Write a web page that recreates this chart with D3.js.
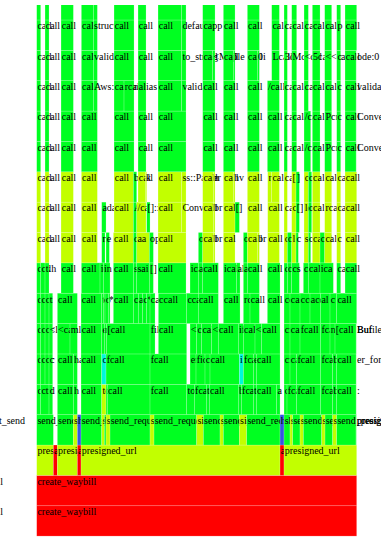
<!DOCTYPE html>
<html>
<head>
<meta charset="utf-8">
<script src="https://cdn.jsdelivr.net/npm/d3@7"></script>
<style>
  html, body { margin: 0; padding: 0; background: #fff; }
  svg { display: block; }
</style>
</head>
<body>
<div id="chart"></div>
<script>
// flame graph, root at the bottom. each frame: [startSample, endSample, kind, name]
const totalSamples = 960;

const frames0 = [[0, 960, "red", "create_waybill"]];
const frames1 = [[0, 960, "red", "create_waybill"]];
const frames2 = [
  [0, 50, "yellow", "presigned_url"], [50, 62, "red", "aws_sign"], [62, 122, "yellow", "presigned_url"],
  [122, 133, "red", "aws_sign"], [133, 730, "yellow", "presigned_url"], [730, 742, "red", "aws_sign"],
  [742, 960, "yellow", "presigned_url"]
];
const frames3 = [
  [0, 50, "green", "send_request"],
  [62, 110, "green", "send_request"], [110, 122, "yellow", "sign"], [122, 133, "blue", "hmac"],
  [133, 195, "green", "send_request"], [195, 203, "yellow", "sign"], [203, 208, "green", "b"], [208, 220, "yellow", "sign"],
  [220, 340, "green", "send_request"], [340, 352, "yellow", "sign"],
  [352, 480, "green", "send_request"], [480, 500, "yellow", "sign"],
  [500, 550, "green", "send_request"], [550, 560, "yellow", "sign"],
  [560, 608, "green", "send_request"], [608, 630, "yellow", "sign"],
  [630, 730, "green", "send_request"], [730, 742, "blue", "hmac"],
  [742, 760, "green", "sh"], [760, 768, "yellow", "sign"], [768, 790, "green", "send"], [790, 800, "yellow", "sign"],
  [800, 855, "green", "send_request"], [855, 865, "yellow", "sign"], [865, 888, "green", "send"], [888, 900, "yellow", "sign"],
  [900, 958, "green", "send_presigned"], [958, 959, "green", "presigned_url"], [959, 960, "green", "presigned"]
];
const frames4 = [
  [0, 12, "green", "ctx"], [12, 37, "green", "ctx"], [37, 48, "green", "d"],
  [62, 110, "green", "call"], [110, 122, "green", "h"],
  [133, 195, "green", "call"], [195, 208, "yellow", "tc"], [208, 212, "green", "f"], [212, 340, "green", "call"],
  [340, 450, "green", "fcall"], [450, 473, "green", "torc"], [473, 509, "green", "fcal"], [509, 518, "green", "t"],
  [518, 605, "green", "call"], [605, 614, "green", "b"], [614, 650, "green", "fcal"], [650, 659, "green", "t"],
  [659, 720, "green", "call"], [720, 730, "green", "a"],
  [742, 751, "green", "c"], [751, 780, "green", "fca"], [780, 852, "green", "fcall"], [852, 888, "green", "fca"],
  [888, 900, "green", "b"], [900, 958, "green", "call"], [959, 960, "green", ":"]
];
const frames5 = [
  [0, 12, "green", "cc"], [12, 25, "green", "cc"], [25, 37, "green", "cc"], [37, 48, "green", "c"],
  [62, 110, "green", "call"], [110, 122, "green", "ha"],
  [133, 195, "green", "call"], [195, 208, "cyan", "cir"], [208, 340, "green", "fcall"],
  [340, 450, "green", "fcall"],
  [460, 478, "green", "er"], [478, 505, "green", "fical"], [505, 520, "green", "ca"], [520, 608, "green", "call"],
  [608, 620, "cyan", "i"], [620, 650, "green", "fcal"], [650, 659, "green", "e"], [659, 730, "green", "call"],
  [742, 760, "green", "cfi"], [760, 780, "green", "ca"], [780, 852, "green", "fcall"], [852, 888, "green", "fca"],
  [888, 900, "green", "b"], [900, 958, "green", "call"], [959, 960, "green", "er_for"]
];
const frames6 = [
  [0, 12, "green", "cc"], [12, 25, "green", "cc"], [25, 37, "green", "cc"], [37, 48, "green", "<l"],
  [62, 100, "green", "<cal"], [100, 122, "green", "ml"],
  [133, 195, "green", "call"], [195, 203, "green", "ei"], [203, 210, "green", "rf"], [210, 340, "green", "[call"],
  [340, 355, "green", "fil"],
  [365, 450, "green", "call"],
  [460, 480, "green", "<>"], [480, 495, "green", "cf"], [495, 525, "green", "cal"], [525, 545, "green", "<<"],
  [545, 605, "green", "call"], [605, 620, "green", "if"], [620, 655, "green", "cal"], [655, 675, "green", "<<"],
  [675, 730, "green", "call"],
  [742, 760, "green", "cfi"], [760, 790, "green", "ca"], [790, 852, "green", "fcall"], [852, 880, "green", "fca"],
  [880, 895, "green", "nc"], [895, 958, "green", "[call"], [959, 960, "green", "Buf"], [959, 960, "green", "Bufile"]
];
const frames7 = [
  [0, 12, "green", "ct"], [12, 25, "green", "ct"], [25, 37, "green", "cl"], [37, 48, "green", "t"],
  [62, 122, "green", "call"],
  [133, 195, "green", "call"], [195, 200, "green", "t"], [200, 205, "green", "c"], [205, 215, "green", "o"],
  [215, 220, "green", "*"],
  [230, 290, "green", "call"], [290, 305, "green", "cc"], [305, 318, "green", "al"], [318, 330, "green", "c"],
  [330, 340, "green", "*"], [340, 355, "green", "call"],
  [365, 450, "green", "ccall"],
  [450, 485, "green", "ccal"], [485, 545, "green", "call"],
  [560, 610, "green", "call"],
  [620, 640, "green", "rc"], [640, 668, "green", "call"],
  [692, 730, "green", "call"],
  [742, 760, "green", "ccc"], [760, 790, "green", "cal"], [790, 820, "green", "ccc"], [820, 852, "green", "acc"],
  [852, 880, "green", "al"], [880, 900, "green", "c"], [900, 960, "green", "call"]
];
const frames8 = [
  [0, 12, "green", "ci"], [12, 25, "green", "ck"], [25, 37, "green", "tlh"],
  [73, 110, "green", "call"],
  [134, 190, "green", "call"], [190, 200, "green", "id"], [200, 220, "green", "in"],
  [230, 290, "green", "call"], [290, 300, "green", "sc"], [300, 338, "green", "sai"], [338, 350, "green", "[]"],
  [364, 448, "green", "call"],
  [460, 485, "green", "ical"], [485, 498, "green", "al"], [498, 545, "green", "call"],
  [560, 600, "green", "ical"], [600, 610, "green", "al"],
  [620, 632, "green", "al"], [632, 668, "green", "call"],
  [692, 730, "green", "call"],
  [742, 752, "green", "ci"], [752, 765, "green", "cal"], [765, 788, "green", "cs"],
  [800, 815, "green", "cai"], [815, 850, "green", "cal"], [850, 890, "green", "ica"],
  [900, 912, "green", "ca"], [925, 960, "green", "call"]
];
const frames9 = [
  [0, 12, "yellow", "call"], [25, 37, "yellow", "call"], [73, 110, "yellow", "call"], [134, 182, "yellow", "call"],
  [195, 205, "green", "rs"], [208, 218, "green", "e"],
  [230, 290, "yellow", "call"], [290, 300, "green", "cc"], [300, 338, "yellow", "aa"], [338, 350, "green", "op"],
  [364, 448, "yellow", "call"],
  [485, 498, "green", "o"], [498, 530, "yellow", "call"], [530, 535, "yellow", "br"],
  [560, 595, "yellow", "cal"], [620, 632, "green", "o"], [632, 662, "yellow", "call"], [662, 668, "yellow", "br"],
  [693, 728, "yellow", "call"],
  [742, 752, "yellow", "co"], [752, 765, "green", "cc"], [765, 778, "yellow", "l"], [778, 785, "green", "c"],
  [802, 815, "yellow", "s"], [815, 822, "green", "c"], [827, 850, "yellow", "cal"], [850, 864, "green", "cal"],
  [864, 885, "yellow", "cal"], [900, 912, "yellow", "c"], [925, 960, "yellow", "call"]
];
const frames10 = [
  [0, 12, "yellow", "call"], [25, 37, "yellow", "call"], [73, 110, "yellow", "call"], [134, 182, "yellow", "call"],
  [195, 208, "green", "adapter"],
  [232, 290, "yellow", "call"], [290, 300, "green", "A"], [300, 328, "yellow", "/ca"], [330, 340, "green", "[]::"],
  [364, 435, "yellow", "call"], [435, 448, "yellow", "Convert"],
  [498, 530, "yellow", "call"], [530, 535, "yellow", "br"], [560, 595, "yellow", "call"], [595, 608, "green", "[]"],
  [632, 668, "yellow", "call"], [693, 728, "yellow", "call"],
  [742, 752, "yellow", "cac"], [765, 778, "yellow", "c"], [778, 788, "green", "[]"],
  [802, 815, "yellow", "lcr"], [815, 825, "green", "c"], [827, 850, "yellow", "cal"], [864, 885, "yellow", "rcal"],
  [900, 912, "yellow", "ca"], [925, 960, "yellow", "call"]
];
const frames11 = [
  [0, 12, "yellow", "call"], [25, 37, "yellow", "call"], [73, 110, "yellow", "call"], [134, 182, "yellow", "call"],
  [232, 290, "yellow", "call"], [290, 300, "green", "b"], [304, 326, "yellow", "call"], [326, 330, "yellow", "k"],
  [364, 435, "yellow", "call"], [435, 448, "yellow", "ss::Parser"],
  [498, 530, "yellow", "call"], [530, 535, "yellow", "n"], [560, 590, "yellow", "call"], [590, 595, "yellow", "hv"],
  [632, 668, "yellow", "call"], [693, 705, "yellow", "r>"], [705, 728, "yellow", "call"],
  [742, 752, "yellow", "cac"], [765, 778, "yellow", "[]"], [778, 788, "green", "]"],
  [802, 815, "yellow", "c"], [815, 825, "green", "cc"], [827, 850, "yellow", "cal"], [864, 885, "yellow", "cal"],
  [900, 912, "yellow", "ca"], [925, 960, "yellow", "call"]
];
const frames12 = [
  [0, 12, "green", "call"], [25, 37, "green", "call"], [73, 110, "green", "call"], [134, 182, "green", "call"],
  [232, 292, "green", "call"], [304, 328, "green", "call"], [364, 448, "green", "call"],
  [498, 535, "green", "call"], [560, 595, "green", "call"], [632, 668, "green", "call"], [692, 728, "green", "call"],
  [742, 752, "green", "ca"], [765, 780, "green", "calc"], [802, 822, "green", "/cal"], [827, 850, "green", "cal"],
  [864, 885, "green", "Pcn"], [900, 912, "green", "c"], [925, 958, "green", "call"], [959, 960, "green", "Convert"]
];
const frames13 = [
  [0, 12, "green", "call"], [25, 37, "green", "call"], [73, 110, "green", "call"], [134, 182, "green", "call"],
  [232, 292, "green", "call"], [304, 328, "green", "call"], [364, 448, "green", "call"],
  [498, 535, "green", "call"], [560, 595, "green", "call"], [632, 668, "green", "call"], [692, 728, "green", "call"],
  [742, 752, "green", "ca"], [765, 780, "green", "calc"], [802, 822, "green", "/cal"], [827, 850, "green", "cal"],
  [864, 885, "green", "Pcn"], [900, 912, "green", "c"], [925, 958, "green", "call"], [959, 960, "green", "Convert"]
];
const frames14 = [
  [0, 12, "green", "call"], [25, 37, "green", "call"], [73, 110, "green", "call"],
  [134, 170, "green", "call"], [170, 182, "green", "Aws::Client"],
  [232, 262, "green", "call"], [262, 292, "green", "rcall"], [304, 328, "green", "alias"],
  [364, 435, "green", "call"], [435, 448, "green", "validate"],
  [498, 535, "green", "call"], [560, 595, "green", "call"], [632, 668, "green", "call"], [692, 728, "green", "/call"],
  [742, 752, "green", "cal"], [765, 780, "green", "cal"], [802, 815, "green", "cal"], [827, 850, "green", "cal"],
  [864, 885, "green", "call"], [900, 912, "green", "c"], [925, 958, "green", "call"], [959, 960, "green", "validate"]
];
const frames15 = [
  [0, 12, "green", "call"], [25, 37, "green", "call"], [73, 110, "green", "call"],
  [134, 170, "green", "call"], [170, 182, "green", "validate"],
  [232, 292, "green", "call"], [304, 328, "green", "call"],
  [364, 435, "green", "call"], [435, 448, "green", "to_string"],
  [498, 528, "green", "call"], [528, 535, "green", "<Map"], [560, 590, "green", "call"], [590, 595, "green", "Ile"],
  [632, 662, "green", "call"], [662, 668, "green", "0i"], [705, 728, "green", "Lcall"],
  [742, 752, "green", "3d"], [765, 780, "green", "Mc"], [802, 815, "green", "<cal"], [827, 850, "green", "5cal"],
  [864, 885, "green", "<<call"], [900, 912, "green", "c"], [925, 958, "green", "call"], [959, 960, "green", "ode:0"]
];
const frames16 = [
  [0, 12, "green", "call"], [25, 37, "green", "call"], [73, 110, "green", "call"],
  [134, 170, "green", "call"], [170, 182, "green", "struct"],
  [232, 292, "green", "call"], [304, 328, "green", "call"],
  [364, 435, "green", "call"], [435, 448, "green", "default"],
  [498, 535, "green", "capp"], [560, 595, "green", "call"], [632, 668, "green", "call"], [705, 728, "green", "cal"],
  [742, 752, "green", "ca"], [765, 780, "green", "cal"], [802, 815, "green", "ca"], [827, 850, "green", "cal"],
  [864, 885, "green", "cal"], [900, 912, "green", "p"], [925, 960, "green", "call"]
];
const frames17 = [
  [0, 12, "green", "call"], [25, 37, "green", "call"], [73, 110, "green", "call"],
  [134, 170, "green", "call"], [170, 182, "green", "call"],
  [232, 292, "green", "call"], [304, 328, "green", "call"], [364, 435, "green", "call"], [435, 448, "green", "call"],
  [498, 535, "green", "call"], [560, 595, "green", "call"], [632, 668, "green", "call"], [705, 728, "green", "call"],
  [742, 752, "green", "call"], [765, 780, "green", "call"], [802, 815, "green", "call"], [827, 850, "green", "call"],
  [864, 885, "green", "call"], [900, 912, "green", "call"], [925, 960, "green", "call"]
];

// frames that start left of the visible range: [depth, name, endSample]
const leftLabels = [[0, "create_waybill", -101], [1, "create_waybill", -101], [3, "request_send", -35]];

const rows = [frames0, frames1, frames2, frames3, frames4, frames5, frames6, frames7, frames8,
  frames9, frames10, frames11, frames12, frames13, frames14, frames15, frames16, frames17];

const palette = {
  red: "#ff0000",
  yellow: "#c2ff00",
  green: "#00ff21",
  blue: "#3456e0",
  cyan: "#00f7dc"
};

// set dimensions
const width = 381, height = 552;
const bottom = 536.1, rowH = 30.36;

const svg = d3.select("#chart")
  .append("svg")
    .attr("width", width)
    .attr("height", height)
    .style("font-family", "'Liberation Serif', 'Times New Roman', serif")
    .style("font-size", "10px")

svg.append("clipPath")
    .attr("id", "view")
  .append("rect")
    .attr("x", 0).attr("y", 5)
    .attr("width", width).attr("height", height - 5)

const plot = svg.append("g").attr("clip-path", "url(#view)")

// scales
const x = d3.scaleLinear().domain([0, totalSamples]).range([36.7, 356.7])
const y = d3.scaleBand()
  .domain(d3.range(rows.length))
  .range([bottom, bottom - rowH * rows.length])
  .paddingInner(0)

// frames, drawn left to right so each rect hides the overflow of the text before it
rows.forEach((frames, depth) => {
  const row = plot.append("g").attr("class", "row")
  frames.forEach(f => {
    const g = row.append("g").attr("class", "frame")
    g.append("rect")
      .attr("x", x(f[0]))
      .attr("y", y(depth))
      .attr("width", Math.max(0, x(f[1]) - x(f[0])))
      .attr("height", y.bandwidth())
      .style("fill", palette[f[2]])
      .style("stroke", "#fff")
      .style("stroke-opacity", 0.3)
      .style("stroke-width", 0.6)
    g.append("text")
      .attr("x", x(f[0]) + 0.7)
      .attr("y", y(depth) + 9.3)
      .style("fill", "#000")
      .text(f[3])
  })
})

// names of frames that sit left of the view
plot.selectAll(".left-label")
  .data(leftLabels)
  .enter()
  .append("text")
    .attr("class", "left-label")
    .attr("x", d => x(d[2]))
    .attr("y", d => y(d[0]) + 9.3)
    .attr("text-anchor", "end")
    .style("fill", "#000")
    .text(d => d[1])
</script>
</body>
</html>
